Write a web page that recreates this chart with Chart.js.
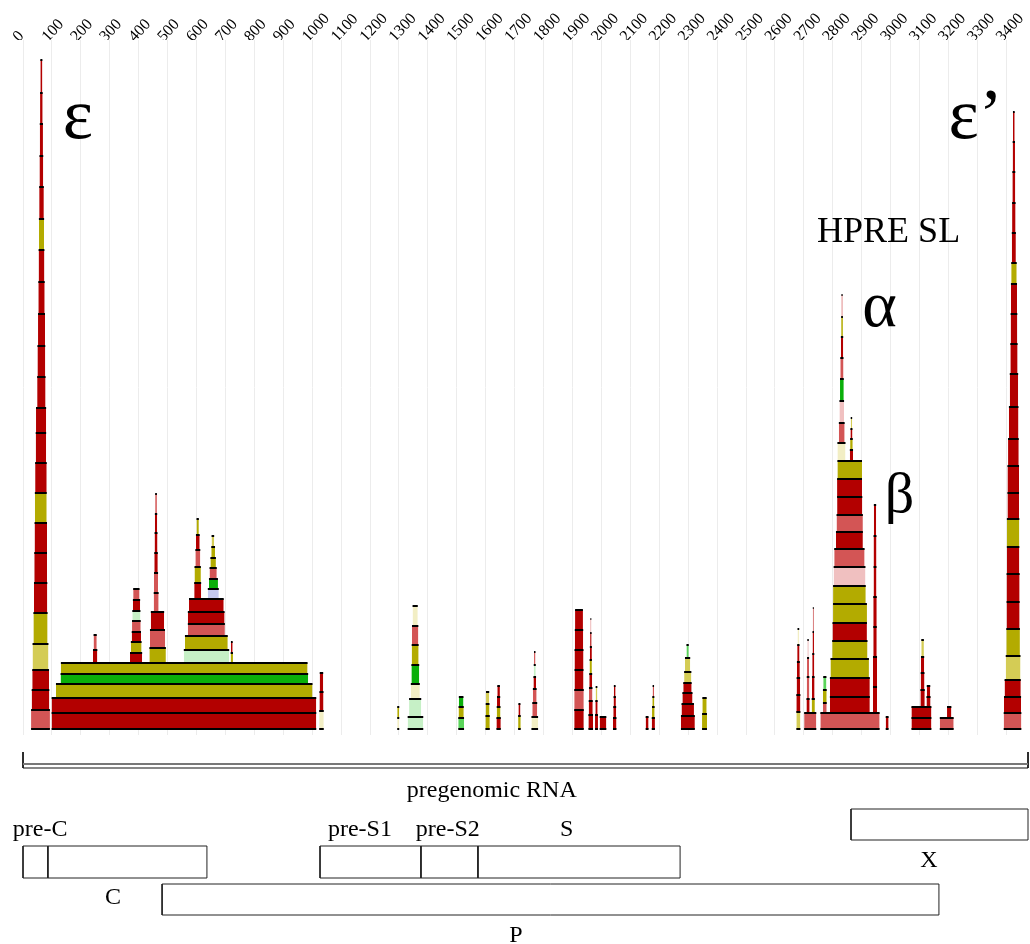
<!DOCTYPE html>
<html>
<head>
<meta charset="utf-8">
<script src="https://cdn.jsdelivr.net/npm/chart.js@4.4.0/dist/chart.umd.min.js"></script>
<style>
  body { margin: 0; background: #fff; }
  canvas { display: block; }
</style>
</head>
<body>
<canvas id="structure" width="1030" height="740"></canvas>
<canvas id="genome" width="1030" height="204"></canvas>
<script>
// Genome axis
const genomeLength = 3475;
const tickValues = [0, 100, 200, 300, 400, 500, 600, 700, 800, 900, 1000, 1100, 1200, 1300, 1400, 1500, 1600,
    1700, 1800, 1900, 2000, 2100, 2200, 2300, 2400, 2500, 2600, 2700, 2800, 2900, 3000, 3100, 3200, 3300, 3400];

// Helix colours (dark / light / pale of each class)
const colours = {
    R: '#b30000', r: '#d35555', P: '#f0c0c0',
    Y: '#b3ab00', y: '#d4cc55', C: '#f2eec4',
    G: '#0aaf0a', g: '#5ad45a', q: '#c6f0c6',
    B: '#c4c8f0'
};

// Each row: [start, end, lower level, upper level, colour]
const epsilon5 = [
    [28, 93, 0, 19, 'r'], [30, 91, 19, 39, 'R'], [32, 90, 39, 59, 'R'], [33, 88, 59, 85, 'y'],
    [36, 85, 85, 116, 'Y'], [38, 84, 116, 146, 'R'], [39, 83, 146, 176, 'R'], [40, 83, 176, 206, 'R'],
    [41, 82, 206, 236, 'Y'], [42, 82, 236, 266, 'R'], [44, 80, 266, 296, 'R'], [45, 80, 296, 321, 'R'],
    [49, 78, 321, 352, 'R'], [50, 77, 352, 383, 'R'], [52, 76, 383, 415, 'R'], [53, 75, 415, 447, 'R'],
    [54, 74, 447, 479, 'R'], [55, 73, 479, 510, 'Y'], [56, 72, 510, 542, 'R'], [57, 70, 542, 573, 'R'],
    [58, 69, 573, 605, 'R'], [59, 68, 605, 636, 'R'], [60, 67, 636, 669, 'R']
];

const coreRegion = [
    [99, 1014, 0, 16, 'R'], [99, 1014, 16, 31, 'R'], [114, 1001, 31, 45, 'Y'], [130, 986, 45, 55, 'G'],
    [131, 984, 55, 66, 'Y'],
    [242, 257, 66, 79, 'R'], [244, 255, 79, 94, 'r'],
    [370, 412, 66, 76, 'R'], [373, 410, 76, 87, 'Y'], [376, 408, 87, 97, 'R'], [377, 407, 97, 108, 'r'],
    [378, 406, 108, 118, 'q'], [380, 405, 118, 129, 'R'], [381, 403, 129, 140, 'r'],
    [437, 494, 66, 81, 'Y'], [439, 491, 81, 99, 'r'], [442, 488, 99, 117, 'R'], [452, 469, 117, 136, 'r'],
    [453, 467, 136, 156, 'r'], [454, 466, 156, 176, 'R'], [455, 465, 176, 196, 'R'], [456, 464, 196, 215, 'R'],
    [457, 463, 215, 235, 'r'],
    [556, 713, 66, 79, 'q'], [560, 708, 79, 93, 'Y'], [570, 698, 93, 105, 'r'], [570, 697, 105, 117, 'R'],
    [574, 694, 117, 130, 'R'],
    [592, 616, 130, 146, 'R'], [593, 615, 146, 162, 'Y'], [596, 613, 162, 179, 'r'], [598, 611, 179, 194, 'R'],
    [600, 608, 194, 210, 'Y'],
    [639, 677, 130, 140, 'B'], [643, 674, 140, 150, 'G'], [645, 670, 150, 161, 'r'], [648, 667, 161, 171, 'Y'],
    [651, 664, 171, 182, 'Y'], [652, 661, 182, 193, 'y'],
    [718, 726, 66, 76, 'Y'], [719, 725, 76, 87, 'R'],
    [1024, 1040, 0, 18, 'C'], [1025, 1039, 18, 37, 'R'], [1026, 1038, 37, 56, 'R']
];

const envRegion = [
    [1294, 1301, 0, 11, 'C'], [1294, 1301, 11, 22, 'Y'],
    [1330, 1384, 0, 12, 'q'], [1335, 1377, 12, 30, 'q'], [1341, 1372, 30, 45, 'C'], [1343, 1370, 45, 64, 'G'],
    [1344, 1368, 64, 84, 'Y'], [1345, 1367, 84, 103, 'r'], [1347, 1365, 103, 123, 'C'],
    [1505, 1525, 0, 11, 'g'], [1506, 1524, 11, 22, 'Y'], [1507, 1523, 22, 32, 'G'],
    [1599, 1614, 0, 13, 'Y'], [1600, 1613, 13, 25, 'Y'], [1601, 1612, 25, 37, 'y'],
    [1637, 1652, 0, 11, 'R'], [1638, 1651, 11, 22, 'Y'], [1639, 1650, 22, 32, 'R'], [1640, 1649, 32, 43, 'R'],
    [1712, 1721, 0, 13, 'Y'], [1713, 1720, 13, 25, 'R'],
    [1758, 1781, 0, 12, 'C'], [1761, 1778, 12, 26, 'r'], [1763, 1776, 26, 40, 'r'], [1765, 1774, 40, 52, 'R'],
    [1766, 1773, 52, 64, 'q'], [1767, 1772, 64, 77, 'r'],
    [1906, 1939, 0, 19, 'R'], [1906, 1939, 19, 39, 'r'], [1907, 1938, 39, 59, 'R'], [1907, 1938, 59, 79, 'R'],
    [1908, 1937, 79, 99, 'R'], [1909, 1936, 99, 119, 'R'],
    [1955, 1971, 0, 14, 'R'], [1956, 1970, 14, 28, 'R'], [1957, 1969, 28, 41, 'r'], [1958, 1968, 41, 55, 'R'],
    [1959, 1967, 55, 69, 'Y'], [1960, 1967, 69, 82, 'R'], [1961, 1966, 82, 96, 'R'], [1962, 1965, 96, 110, 'r'],
    [1978, 1988, 0, 14, 'R'], [1979, 1987, 14, 28, 'R'], [1980, 1986, 28, 42, 'y'],
    [1994, 2017, 0, 12, 'R'],
    [2040, 2052, 0, 11, 'R'], [2041, 2051, 11, 22, 'R'], [2042, 2050, 22, 32, 'R'], [2043, 2049, 32, 43, 'R'],
    [2153, 2163, 0, 12, 'R'],
    [2174, 2185, 0, 11, 'R'], [2175, 2184, 11, 22, 'Y'], [2176, 2183, 22, 32, 'Y'], [2177, 2182, 32, 43, 'r'],
    [2275, 2323, 0, 13, 'R'], [2277, 2320, 13, 25, 'R'], [2280, 2315, 25, 36, 'R'], [2283, 2312, 36, 46, 'R'],
    [2286, 2311, 46, 57, 'y'], [2289, 2307, 57, 71, 'y'], [2294, 2302, 71, 84, 'g'],
    [2348, 2365, 0, 15, 'Y'], [2349, 2364, 15, 31, 'Y']
];

const hpreRegion = [
    [2674, 2688, 0, 17, 'y'], [2674, 2688, 17, 34, 'R'], [2675, 2687, 34, 51, 'R'], [2676, 2686, 51, 67, 'R'],
    [2677, 2685, 67, 84, 'R'], [2678, 2684, 84, 100, 'C'],
    [2701, 2743, 0, 16, 'r'],
    [2709, 2720, 16, 30, 'R'], [2710, 2719, 30, 52, 'r'], [2711, 2718, 52, 71, 'r'], [2712, 2717, 71, 89, 'P'],
    [2727, 2738, 16, 30, 'Y'], [2728, 2737, 30, 52, 'R'], [2729, 2736, 52, 75, 'R'], [2730, 2735, 75, 97, 'R'],
    [2731, 2734, 97, 121, 'R'],
    [2757, 2962, 0, 16, 'r'],
    [2766, 2779, 16, 26, 'r'], [2766, 2779, 26, 39, 'Y'], [2767, 2778, 39, 52, 'g'],
    [2790, 2928, 16, 32, 'R'], [2790, 2928, 32, 51, 'R'], [2792, 2925, 51, 70, 'Y'], [2798, 2920, 70, 88, 'Y'],
    [2799, 2918, 88, 106, 'R'], [2801, 2918, 106, 125, 'Y'], [2801, 2914, 125, 143, 'Y'], [2803, 2913, 143, 162, 'P'],
    [2805, 2910, 162, 180, 'r'], [2811, 2904, 180, 197, 'R'], [2813, 2904, 197, 214, 'r'], [2815, 2902, 214, 232, 'R'],
    [2815, 2901, 232, 250, 'R'], [2816, 2901, 250, 268, 'Y'],
    [2816, 2844, 268, 286, 'C'], [2821, 2841, 286, 306, 'r'], [2823, 2839, 306, 328, 'P'], [2825, 2838, 328, 350, 'G'],
    [2826, 2837, 350, 371, 'r'], [2828, 2836, 371, 392, 'R'], [2829, 2835, 392, 412, 'Y'], [2830, 2834, 412, 434, 'r'],
    [2859, 2870, 268, 279, 'R'], [2860, 2869, 279, 290, 'Y'], [2861, 2868, 290, 300, 'R'], [2862, 2867, 300, 311, 'y'],
    [2939, 2953, 16, 42, 'R'], [2939, 2953, 42, 72, 'R'], [2940, 2952, 72, 102, 'R'], [2940, 2952, 102, 132, 'R'],
    [2941, 2951, 132, 162, 'R'], [2941, 2951, 162, 193, 'R'], [2942, 2950, 193, 224, 'R'],
    [2983, 2993, 0, 12, 'R'],
    [3072, 3141, 0, 11, 'R'], [3072, 3141, 11, 22, 'R'],
    [3103, 3118, 22, 39, 'R'], [3104, 3117, 39, 56, 'R'], [3105, 3116, 56, 72, 'R'], [3106, 3115, 72, 89, 'y'],
    [3124, 3138, 22, 32, 'R'], [3125, 3137, 32, 43, 'R'],
    [3170, 3218, 0, 11, 'r'], [3195, 3210, 11, 22, 'R']
];

const epsilon3 = [
    [3391, 3452, 0, 16, 'r'], [3392, 3451, 16, 32, 'R'], [3394, 3450, 32, 49, 'R'], [3398, 3449, 49, 73, 'y'],
    [3400, 3447, 73, 100, 'Y'], [3401, 3446, 100, 127, 'R'], [3401, 3446, 127, 155, 'R'], [3402, 3445, 155, 182, 'R'],
    [3402, 3445, 182, 210, 'Y'], [3404, 3444, 210, 236, 'R'], [3404, 3444, 236, 263, 'R'], [3406, 3443, 263, 290, 'R'],
    [3409, 3442, 290, 322, 'R'], [3412, 3441, 322, 355, 'R'], [3414, 3439, 355, 385, 'R'], [3415, 3438, 385, 415, 'R'],
    [3416, 3437, 415, 445, 'R'], [3417, 3436, 445, 466, 'Y'], [3419, 3433, 466, 496, 'R'], [3420, 3432, 496, 526, 'R'],
    [3421, 3431, 526, 557, 'R'], [3422, 3430, 557, 587, 'R'], [3423, 3429, 587, 617, 'R']
];

// Genome map
const rnaSpan = [0, 3475];
const geneNames = ['pre-C', 'C', 'pre-S1', 'pre-S2', 'S', 'X', 'P'];
const geneStart = [0, 86, 1027, 1376, 1573, 2863, 481];
const geneEnd = [86, 636, 1376, 1573, 2272, 3475, 3167];
const geneLane = [1, 1, 1, 1, 1, 0, 2];

// Layout of the genome map (track levels, not data)
const laneBounds = [[104, 135], [66, 98], [29, 60]];
const geneLabelPos = [59, 311, 1165, 1469, 1880, 3132, 1704];
const geneLabelLevel = [108, 40, 108, 108, 108, 77, 2];

const serif = '"Liberation Serif", "Times New Roman", serif';

const structureLabels = [
    { text: 'ε', pos: 190, level: 591, size: 72 },
    { text: 'ε’', pos: 3294, level: 591, size: 72 },
    { text: 'HPRE SL', pos: 2993, level: 487, size: 36 },
    { text: 'α', pos: 2962, level: 403, size: 66 },
    { text: 'β', pos: 3031, level: 217, size: 58 }
];

const genomeLabels = geneNames.map((name, i) => ({
    text: name, pos: geneLabelPos[i], level: geneLabelLevel[i], size: 24
}));
genomeLabels.push({ text: 'pregenomic RNA', pos: 1621, level: 147, size: 24 });

function textPlugin(marks) {
    return {
        id: 'textMarks',
        afterDatasetsDraw(chart) {
            const { ctx, scales: { x, y } } = chart;
            ctx.save();
            ctx.fillStyle = '#000';
            ctx.textAlign = 'center';
            ctx.textBaseline = 'alphabetic';
            marks.forEach(m => {
                ctx.font = m.size + 'px ' + serif;
                ctx.fillText(m.text, x.getPixelForValue(m.pos), y.getPixelForValue(m.level));
            });
            ctx.restore();
        }
    };
}

// Filled helix rectangles plus their black top/bottom edges
const allRows = [...epsilon5, ...coreRegion, ...envRegion, ...hpreRegion, ...epsilon3];

const helixDatasets = allRows.map(([start, end, lo, hi, key]) => ({
    type: 'line',
    data: [{ x: start, y: hi }, { x: end, y: hi }],
    fill: { value: lo },
    backgroundColor: colours[key],
    borderWidth: 0,
    pointRadius: 0,
    order: 1
}));

const edgePoints = [];
allRows.forEach(([start, end, lo, hi]) => {
    edgePoints.push({ x: start, y: lo }, { x: end, y: lo }, { x: end, y: null });
    edgePoints.push({ x: start, y: hi }, { x: end, y: hi }, { x: end, y: null });
});

new Chart(document.getElementById('structure'), {
    type: 'line',
    data: {
        datasets: [
            {
                data: edgePoints,
                borderColor: '#000',
                borderWidth: 2,
                pointRadius: 0,
                fill: false,
                spanGaps: false,
                order: 0
            },
            ...helixDatasets
        ]
    },
    options: {
        responsive: false,
        animation: false,
        events: [],
        layout: { padding: { left: 23, right: 2, top: 0, bottom: 5 } },
        plugins: { legend: { display: false }, tooltip: { enabled: false } },
        scales: {
            x: {
                type: 'linear',
                position: 'top',
                min: 0,
                max: genomeLength,
                afterBuildTicks: scale => { scale.ticks = tickValues.map(v => ({ value: v })); },
                afterFit: scale => { scale.height = 40; scale.paddingLeft = 0; scale.paddingRight = 0; },
                grid: { color: '#ececec', lineWidth: 1, drawTicks: false },
                border: { display: false },
                ticks: {
                    autoSkip: false,
                    minRotation: 47,
                    maxRotation: 47,
                    padding: -6,
                    labelOffset: 7,
                    color: '#000',
                    font: { family: serif, size: 16 },
                    callback: value => String(value)
                }
            },
            y: { type: 'linear', display: false, min: -6, max: 689 }
        }
    },
    plugins: [textPlugin(structureLabels)]
});

// Genome map below
function boxPath(start, end, lo, hi) {
    return [{ x: start, y: lo }, { x: end, y: lo }, { x: end, y: hi }, { x: start, y: hi }, { x: start, y: lo }];
}

const geneDatasets = geneNames.map((name, i) => ({
    data: boxPath(geneStart[i], geneEnd[i], laneBounds[geneLane[i]][0], laneBounds[geneLane[i]][1]),
    borderColor: '#222',
    borderWidth: 1,
    pointRadius: 0,
    fill: false,
    clip: false
}));

const rnaDatasets = [
    { data: [{ x: rnaSpan[0], y: 180 }, { x: rnaSpan[1], y: 180 }], borderColor: '#777', borderWidth: 2 },
    { data: [{ x: rnaSpan[0], y: 176 }, { x: rnaSpan[1], y: 176 }], borderColor: '#111', borderWidth: 1.2 },
    { data: [{ x: rnaSpan[0], y: 192 }, { x: rnaSpan[0], y: 176 }], borderColor: '#111', borderWidth: 1 },
    { data: [{ x: rnaSpan[1], y: 192 }, { x: rnaSpan[1], y: 176 }], borderColor: '#111', borderWidth: 1 }
].map(d => ({ ...d, pointRadius: 0, fill: false, clip: false }));

new Chart(document.getElementById('genome'), {
    type: 'line',
    data: { datasets: [...rnaDatasets, ...geneDatasets] },
    options: {
        responsive: false,
        animation: false,
        events: [],
        layout: { padding: { left: 23, right: 2, top: 0, bottom: 0 } },
        plugins: { legend: { display: false }, tooltip: { enabled: false } },
        scales: {
            x: { type: 'linear', display: false, min: 0, max: genomeLength },
            y: { type: 'linear', display: false, min: 0, max: 204 }
        }
    },
    plugins: [textPlugin(genomeLabels)]
});
</script>
</body>
</html>
